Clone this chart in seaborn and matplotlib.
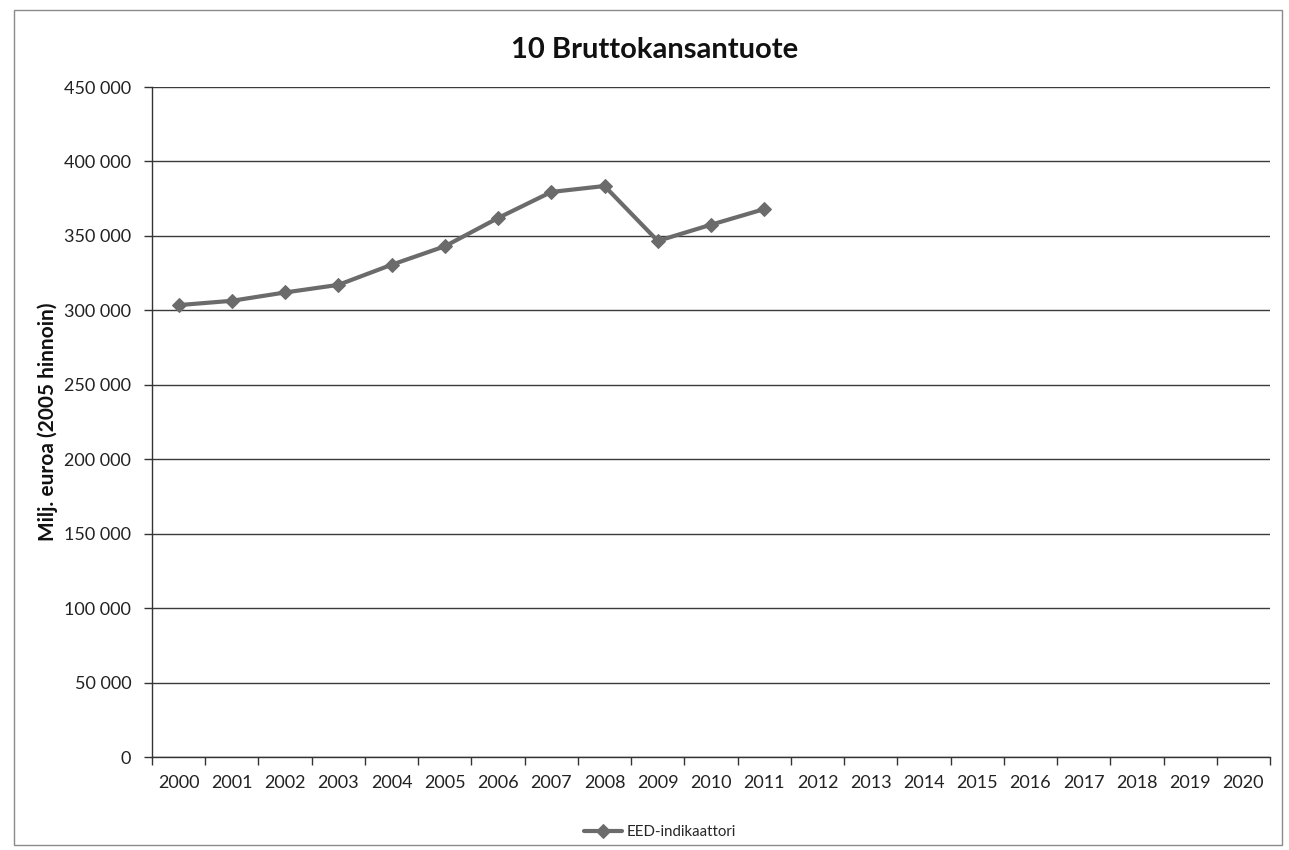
import matplotlib
matplotlib.use("Agg")
import matplotlib.pyplot as plt
import seaborn as sns
import pandas as pd
from matplotlib.patches import Rectangle
from matplotlib.ticker import FuncFormatter, FixedLocator

years = [str(y) for y in range(2000, 2021)]
data_years = ["2000", "2001", "2002", "2003", "2004", "2005", "2006", "2007", "2008", "2009", "2010", "2011"]
values = [303500, 306400, 312000, 317100, 330600, 343000, 362000, 379500, 383500, 346600, 357500, 368000]
series_name = "EED-indikaattori"
title = "10 Bruttokansantuote"
ylabel = "Milj. euroa (2005 hinnoin)"

sns.set_theme(style="white")
plt.rcParams['font.family'] = ['Lato', 'DejaVu Sans']

fig = plt.figure(figsize=(12.89, 8.5), dpi=100)
ax = fig.add_axes([152/1289, 1-757/850, (1270-152)/1289, (757-87)/850])

df = pd.DataFrame({"pos": [years.index(y) for y in data_years], "value": values, "series": series_name})
sns.lineplot(data=df, x="pos", y="value", hue="series", palette=["#6b6b6b"], marker="D",
             markersize=7.5, linewidth=3.0, markeredgecolor="#6b6b6b", ax=ax)

ax.set_xlim(-0.5, len(years) - 0.5)
ax.set_ylim(0, 450000)
ax.set_yticks(range(0, 450001, 50000))
ax.yaxis.set_major_formatter(FuncFormatter(lambda v, p: f"{int(v):,}".replace(",", " ")))
ax.set_xticks(range(len(years)))
ax.set_xticklabels(years)
ax.xaxis.set_minor_locator(FixedLocator([i - 0.5 for i in range(len(years) + 1)]))
ax.tick_params(axis="x", which="major", length=0, labelsize=13, pad=13, colors="#222222")
ax.tick_params(axis="x", which="minor", length=6, width=1, color="#333333", direction="out", bottom=True)
ax.tick_params(axis="y", which="major", length=6, width=1, color="#333333", direction="out", left=True,
               labelsize=13, pad=9, labelcolor="#222222")
ax.grid(axis="y", color="#3a3a3a", linewidth=1.0)
ax.set_axisbelow(True)
for s in ["top", "right"]:
    ax.spines[s].set_visible(False)
for s in ["left", "bottom"]:
    ax.spines[s].set_color("#333333")
    ax.spines[s].set_linewidth(1.0)

ax.set_xlabel("")
ax.set_ylabel(ylabel, fontsize=15, fontweight="bold", labelpad=4, color="#111111")
fig.text(655/1289, 1-50/850, title, ha="center", va="center", fontsize=21, fontweight="bold", color="#111111")

leg = ax.legend(loc="center", bbox_to_anchor=(660/1289, 1-832/850), bbox_transform=fig.transFigure,
                frameon=False, fontsize=10.8, handlelength=2.5, handletextpad=0.3)

fig.patches.append(Rectangle((14/1289, 1-845/850), (1282-14)/1289, (845-10)/850,
                             transform=fig.transFigure, fill=False, edgecolor="#8a8a8a", linewidth=1.0))

fig.savefig("out.png", dpi=100)
